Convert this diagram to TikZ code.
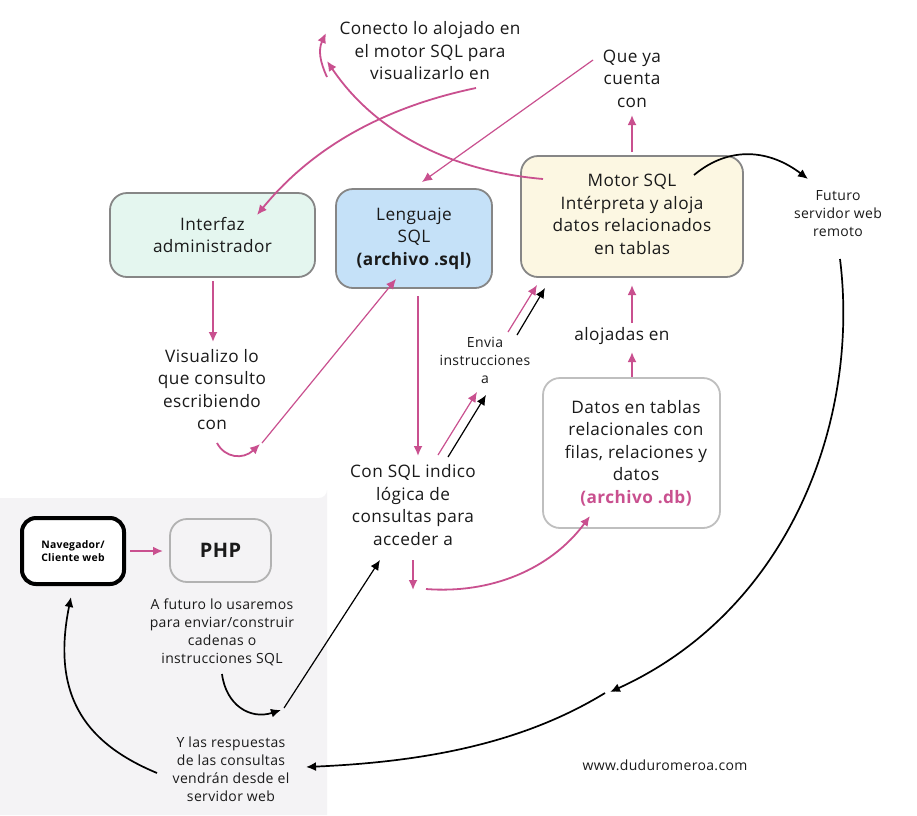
\documentclass[tikz,border=0pt]{standalone}
\usepackage{fontspec}
\setmainfont[LetterSpace=2.5]{Open Sans}
\usetikzlibrary{arrows.meta}
\definecolor{pinkarrow}{HTML}{C9508F}
\definecolor{txt}{HTML}{1A1A1A}
\tikzset{
  big/.style={align=center,text=txt,inner sep=0pt,font=\fontsize{17.2}{22.5}\selectfont},
  small/.style={align=center,text=txt,inner sep=0pt,font=\fontsize{14}{18}\selectfont},
  boxx/.style={draw=#1,line width=1.8pt,rounded corners=17pt,inner sep=0pt},
  pk/.style={draw=pinkarrow,line width=1.8pt,-{Latex[length=10pt,width=9pt]}},
  pkthin/.style={draw=pinkarrow,line width=1.2pt,-{Latex[length=10pt,width=9pt]}},
  bk/.style={draw=black,line width=1.7pt,-{Latex[length=10pt,width=9pt]}},
  bkthin/.style={draw=black,line width=1.2pt,-{Latex[length=10pt,width=9pt]}},
}
\begin{document}
\begin{tikzpicture}[x=1pt,y=-1pt]
\useasboundingbox (0,0) rectangle (917,815);
\fill[white] (0,0) rectangle (917,815);
\fill[color={rgb,255:red,244;green,243;blue,245}] (0,498) -- (319,498) arc[start angle=90,end angle=0,radius=8] -- (327,815) -- (0,815) -- cycle;

% boxes
\node[boxx=gray!95,fill={rgb,255:red,228;green,246;blue,239},minimum width=205pt,minimum height=84pt] (iface) at (212.5,235) {};
\node[boxx=gray!95,fill={rgb,255:red,197;green,225;blue,248},minimum width=156pt,minimum height=99pt] (lang) at (414,238.5) {};
\node[boxx=gray!95,fill={rgb,255:red,252;green,247;blue,226},minimum width=222pt,minimum height=121pt] (motor) at (632,216.5) {};
\node[boxx={black!25},fill=white,minimum width=177pt,minimum height=150pt] (datos) at (631.5,453) {};
\node[boxx=black,line width=4pt,fill=white,minimum width=102pt,minimum height=66pt,rounded corners=14pt] (nav) at (73,551) {};
\node[boxx={black!30},fill=none,minimum width=101pt,minimum height=63pt] (php) at (220.5,550.5) {};

% texts
\node[big] (conecto) at (430,51) {Conecto lo alojado en\\el motor SQL para\\visualizarlo en};
\node[big] (queya) at (632,78.5) {Que ya\\cuenta\\con};
\node[big] (ifacet) at (iface) {Interfaz\\administrador};
\node[big] (langt) at (414,238.5) {Lenguaje\\SQL\\{\bfseries (archivo .sql)}};
\node[big] (motort) at (632,214.5) {Motor SQL\\Intérpreta y aloja\\datos relacionados\\en tablas};
\node[small] (futuro) at (838,213.5) {Futuro\\servidor web\\remoto};
\node[big] (visual) at (212,389.5) {Visualizo lo\\que consulto\\escribiendo\\con};
\node[small] (envia) at (485,360) {Envia\\instrucciones\\a};
\node[big] (aloj) at (622,336) {alojadas en};
\node[big] (datost) at (636,453) {Datos en tablas\\relacionales con\\filas, relaciones y\\datos\\{\bfseries\color{pinkarrow}(archivo .db)}};
\node[big] (consql) at (413,505) {Con SQL indico\\lógica de\\consultas para\\acceder a};
\node[align=center,inner sep=0pt,font=\fontsize{10.4}{13.5}\selectfont\bfseries] (navt) at (nav) {Navegador/\\Cliente web};
\node[inner sep=0pt,text=txt,font=\fontsize{20}{24}\selectfont\bfseries] (phpt) at (php) {PHP};
\node[small] (futuso) at (222,632.5) {A futuro lo usaremos\\para enviar/construir\\cadenas o\\instrucciones SQL};
\node[small] (resp) at (231,769) {Y las respuestas\\de las consultas\\vendrán desde el\\servidor web};
\node[small] (www) at (665,765) {www.duduromeroa.com};

% free ends
\coordinate (a1) at (543,179);
\coordinate (a2) at (327,61);
\coordinate (b1) at (327,77);
\coordinate (b2) at (326,33);
\coordinate (c1) at (476,88);
\coordinate (c2) at (257,215);
\coordinate (d1) at (593,60);
\coordinate (d2) at (422,182);
\coordinate (e1) at (632,152);
\coordinate (e2) at (632,115);
\coordinate (f1) at (694,175);
\coordinate (f2) at (808,179);
\coordinate (g1) at (213,281);
\coordinate (g2) at (213,342);
\coordinate (h1) at (217,443);
\coordinate (h2) at (260,444);
\coordinate (i1) at (262,443);
\coordinate (i2) at (396,279);
\coordinate (j1) at (418,296);
\coordinate (j2) at (418,456);
\coordinate (k1) at (438,455);
\coordinate (k2) at (477,392);
\coordinate (l1) at (448,457);
\coordinate (l2) at (486,395);
\coordinate (m1) at (508,332);
\coordinate (m2) at (537,285);
\coordinate (n1) at (517,335);
\coordinate (n2) at (545,288);
\coordinate (o1) at (632,323);
\coordinate (o2) at (632,285);
\coordinate (p1) at (632,377);
\coordinate (p2) at (632,352);
\coordinate (q1) at (413,560);
\coordinate (q2) at (413,590);
\coordinate (r1) at (426,589);
\coordinate (r2) at (590,516);
\coordinate (s1) at (130,551);
\coordinate (s2) at (163,551);
\coordinate (t1) at (222,674);
\coordinate (t2) at (281,710);
\coordinate (u1) at (284,708);
\coordinate (u2) at (380,560);
\coordinate (v1) at (840,259);
\coordinate (v2) at (610,692);
\coordinate (w1) at (605,693);
\coordinate (w2) at (306,767);
\coordinate (x1) at (157,773);
\coordinate (x2) at (71,597);

% connectors
\draw[pk] (a1) .. controls (440,170) and (370,125) .. (a2);
\draw[pk] (b1) .. controls (320,62) and (318,50) .. (b2);
\draw[pk] (c1) .. controls (380,108) and (310,150) .. (c2);
\draw[pkthin] (d1) -- (d2);
\draw[pk] (e1) -- (e2);
\draw[bk] (f1) .. controls (730,145) and (770,150) .. (f2);
\draw[pk] (g1) -- (g2);
\draw[pk] (h1) .. controls (225,458) and (243,460) .. (h2);
\draw[pkthin] (i1) -- (i2);
\draw[pk] (j1) -- (j2);
\draw[pkthin] (k1) -- (k2);
\draw[bkthin] (l1) -- (l2);
\draw[pkthin] (m1) -- (m2);
\draw[bkthin] (n1) -- (n2);
\draw[pk] (o1) -- (o2);
\draw[pk] (p1) -- (p2);
\draw[pk] (q1) -- (q2);
\draw[pk] (r1) .. controls (490,594) and (550,570) .. (r2);
\draw[pk] (s1) -- (s2);
\draw[bk] (t1) .. controls (226,705) and (250,720) .. (t2);
\draw[bkthin] (u1) -- (u2);
\draw[bk] (v1) .. controls (860,420) and (790,610) .. (v2);
\draw[bk] (w1) .. controls (520,745) and (420,762) .. (w2);
\draw[bk] (x1) .. controls (90,745) and (50,700) .. (x2);
\end{tikzpicture}
\end{document}
